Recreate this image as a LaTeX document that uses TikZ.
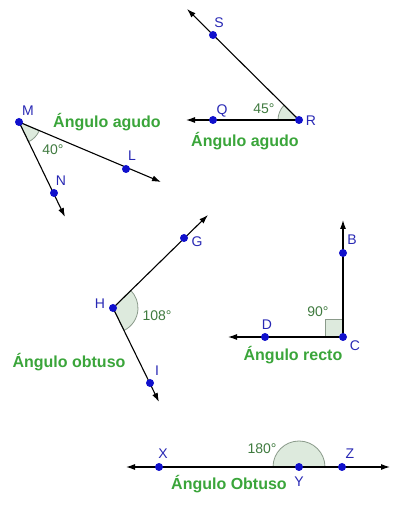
\documentclass[tikz,border=0pt]{standalone}
\usepackage{fontspec}
\setmainfont{Liberation Sans}
\usetikzlibrary{arrows.meta}
\definecolor{dotblue}{HTML}{1010CC}
\definecolor{letterblue}{HTML}{2828B4}
\definecolor{titlegreen}{HTML}{3AA53A}
\definecolor{degreegreen}{HTML}{3F7A3F}
\definecolor{anglefill}{HTML}{DDEADD}
\definecolor{angleline}{HTML}{8A9A8A}
\tikzstyle{point}=[circle,
                   fill=dotblue,
                   inner sep=0pt,
                   minimum size=8pt]
\tikzstyle{ray}=[line width=1.1pt, -{Latex[length=9pt,width=6pt]}]
\tikzstyle{letter}=[text=letterblue, font=\fontsize{14}{14}\selectfont]
\tikzstyle{degree}=[text=degreegreen, font=\fontsize{14}{14}\selectfont]
\tikzstyle{title}=[text=titlegreen, font=\bfseries\fontsize{16}{16}\selectfont]
\tikzstyle{angle_mark}=[fill=anglefill, draw=angleline, line width=0.8pt]

\begin{document}
\begin{tikzpicture}[x=1pt, y=1pt]
  \useasboundingbox (0,0) rectangle (416,512);

  % vertices, points and ray ends
  \coordinate (R) at (299,392);
  \coordinate (S) at (213,477);
  \coordinate (Q) at (213,392);
  \coordinate (Rs) at (187,503);
  \coordinate (Rq) at (186,392);

  \coordinate (M) at (19,390);
  \coordinate (L) at (126,343);
  \coordinate (N) at (54,319);
  \coordinate (Ml) at (161,330);
  \coordinate (Mn) at (65,295);

  \coordinate (H) at (113,204);
  \coordinate (G) at (184,274);
  \coordinate (I) at (150,129);
  \coordinate (Hg) at (208,297);
  \coordinate (Hi) at (159,110);

  \coordinate (C) at (343,175);
  \coordinate (B) at (343,259);
  \coordinate (D) at (265,175);
  \coordinate (Cb) at (343,292);
  \coordinate (Cd) at (228,175);

  \coordinate (Y) at (299,45);
  \coordinate (X) at (159,45);
  \coordinate (Z) at (342,45);
  \coordinate (Yx) at (126,45);
  \coordinate (Yz) at (390,45);

  % angle marks
  \draw[angle_mark] (R) -- ++(135:21) arc (135:180:21) -- cycle;
  \draw[angle_mark] (M) -- ++(-63.8:22) arc (-63.8:-23.7:22) -- cycle;
  \draw[angle_mark] (H) -- ++(-63.7:25) arc (-63.7:44.6:25) -- cycle;
  \draw[angle_mark] (C) rectangle ++(-18,18);
  \draw[angle_mark] (Y) ++(26,0) arc (0:180:26) -- cycle;

  % rays
  \draw[ray] (R) -- (Rs);
  \draw[ray] (R) -- (Rq);
  \draw[ray] (M) -- (Ml);
  \draw[ray] (M) -- (Mn);
  \draw[ray] (H) -- (Hg);
  \draw[ray] (H) -- (Hi);
  \draw[ray] (C) -- (Cb);
  \draw[ray] (C) -- (Cd);
  \draw[ray] (Y) -- (Yx);
  \draw[ray] (Y) -- (Yz);

  % dots
  \foreach \p in {R,S,Q,M,L,N,H,G,I,C,B,D,Y,X,Z} {
    \node at (\p) (dot\p) [point] {};
  }

  % letters
  \node at (219,489) (lS) [letter] {S};
  \node at (311,391) (lR) [letter] {R};
  \node at (222,401) (lQ) [letter] {Q};
  \node at (28,401) (lM) [letter] {M};
  \node at (132,356) (lL) [letter] {L};
  \node at (61,331) (lN) [letter] {N};
  \node at (100,208) (lH) [letter] {H};
  \node at (197,270) (lG) [letter] {G};
  \node at (157,141) (lI) [letter] {I};
  \node at (352,272) (lB) [letter] {B};
  \node at (355,166) (lC) [letter] {C};
  \node at (267,187) (lD) [letter] {D};
  \node at (163,58) (lX) [letter] {X};
  \node at (350,58) (lZ) [letter] {Z};
  \node at (299,30) (lY) [letter] {Y};

  % degrees
  \node at (264,403) (aR) [degree] {45°};
  \node at (53,362) (aM) [degree] {40°};
  \node at (157,196) (aH) [degree] {108°};
  \node at (318,200) (aC) [degree] {90°};
  \node at (262,63) (aY) [degree] {180°};

  % titles
  \node at (245,371) (tR) [title] {Ángulo agudo};
  \node at (107,390) (tM) [title] {Ángulo agudo};
  \node at (69,150) (tH) [title] {Ángulo obtuso};
  \node at (293,157) (tC) [title] {Ángulo recto};
  \node at (229,28) (tY) [title] {Ángulo Obtuso};
\end{tikzpicture}
\end{document}
